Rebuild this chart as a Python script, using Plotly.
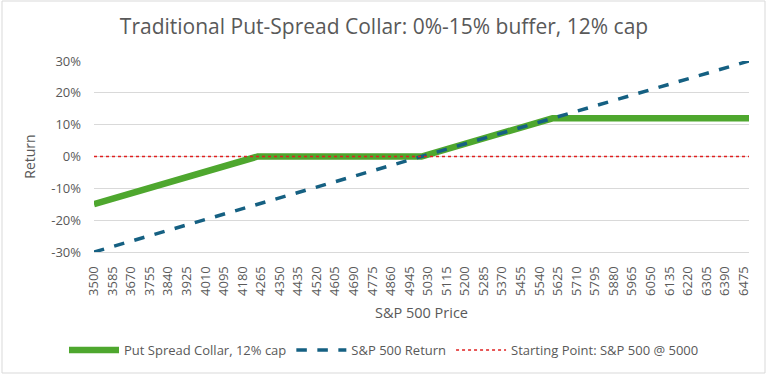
import plotly.graph_objects as go

# ---- data ----
collar_price = [3500, 4250, 5000, 5600, 6500]
collar_return = [-0.15, 0.0, 0.0, 0.12, 0.12]

sp_price = [3500, 5000, 6500]
sp_return = [-0.30, 0.0, 0.30]

start_price = [3500, 6500]
start_return = [0.0, 0.0]

tick_prices = [3500, 3585, 3670, 3755, 3840, 3925, 4010, 4095, 4180, 4265,
               4350, 4435, 4520, 4605, 4690, 4775, 4860, 4945, 5030, 5115,
               5200, 5285, 5370, 5455, 5540, 5625, 5710, 5795, 5880, 5965,
               6050, 6135, 6220, 6305, 6390, 6475]
tick_labels = [str(p) for p in tick_prices]

y_ticks = [-0.3, -0.2, -0.1, 0.0, 0.1, 0.2, 0.3]
y_labels = ["-30%", "-20%", "-10%", "0%", "10%", "20%", "30%"]

FONT = "Open Sans"
GRAY = "#595959"
GRID = "#d9d9d9"

fig = go.Figure()
fig.add_trace(go.Scatter(x=collar_price, y=collar_return, mode="lines",
                         name="Put Spread Collar, 12% cap",
                         line=dict(color="#4ea72e", width=6.5)))
fig.add_trace(go.Scatter(x=sp_price, y=sp_return, mode="lines",
                         name="S&P 500 Return",
                         line=dict(color="#156082", width=3.5, dash="dash")))
fig.add_trace(go.Scatter(x=start_price, y=start_return, mode="lines",
                         name="Starting Point: S&P 500 @ 5000",
                         line=dict(color="#e02020", width=1.6, dash="dot")))

fig.update_layout(
    width=768, height=375,
    margin=dict(l=94, r=19, t=61, b=123),
    paper_bgcolor="white", plot_bgcolor="white",
    font=dict(family=FONT, color=GRAY, size=12),
    title=dict(text="Traditional Put-Spread Collar: 0%-15% buffer, 12% cap",
               x=0.5, xanchor="center", xref="container",
               y=1 - 27 / 375, yanchor="middle", yref="container",
               font=dict(family=FONT, size=21, color=GRAY)),
    showlegend=True,
    legend=dict(orientation="h", x=0.5, xanchor="center", xref="container",
                y=1 - 350 / 375, yanchor="middle", yref="container",
                font=dict(family=FONT, size=13, color=GRAY),
                itemwidth=50,
                bgcolor="rgba(0,0,0,0)"),
    xaxis=dict(range=[3500, 6500], tickmode="array", tickvals=tick_prices,
               ticktext=tick_labels, tickangle=-90, showgrid=False,
               zeroline=False, showline=True, linecolor=GRID, linewidth=1,
               ticks="", ticklabelstandoff=8,
               tickfont=dict(family=FONT, size=13, color=GRAY),
               title=dict(text="S&P 500 Price", standoff=12,
                          font=dict(family=FONT, size=14.5, color=GRAY))),
    yaxis=dict(range=[-0.3, 0.3], tickmode="array", tickvals=y_ticks,
               ticktext=y_labels, showgrid=True, gridcolor=GRID, gridwidth=1,
               zeroline=False, ticks="", ticklabelstandoff=12,
               tickfont=dict(family=FONT, size=13, color=GRAY),
               title=dict(text="Return", standoff=12,
                          font=dict(family=FONT, size=14, color=GRAY))),
)

# chart border
fig.add_shape(type="rect", xref="paper", yref="paper",
              x0=(2 - 94) / 655, x1=(765 - 94) / 655,
              y0=(252 - 373) / 191, y1=(252 - 1) / 191,
              line=dict(color=GRID, width=1), layer="below")

fig.write_html("out.html", config={"displayModeBar": False},
               post_script="document.body.style.margin='0';document.body.style.overflow='hidden';")
